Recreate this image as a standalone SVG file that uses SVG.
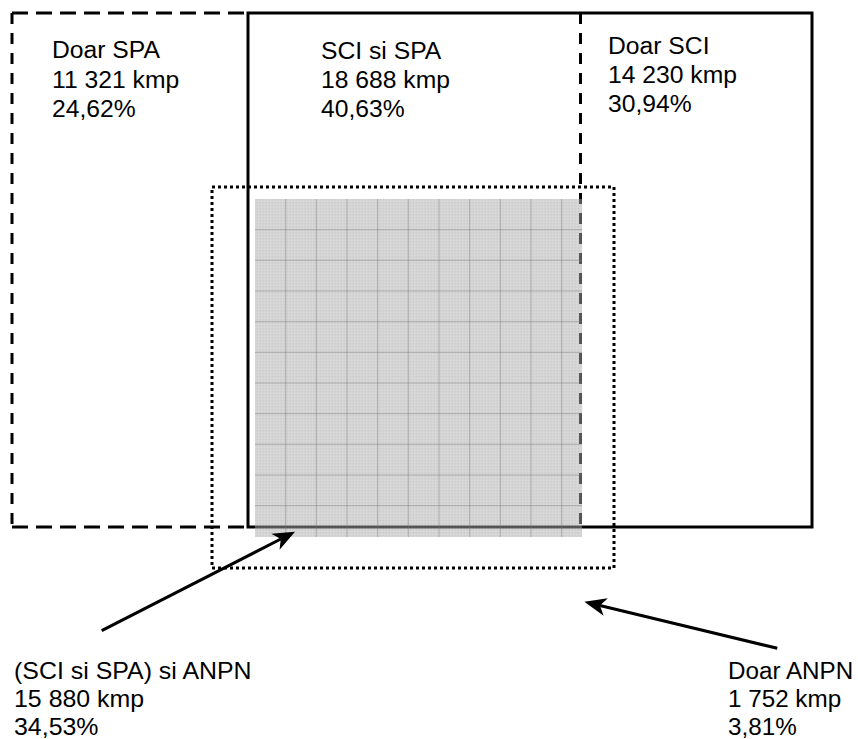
<svg xmlns="http://www.w3.org/2000/svg" width="858" height="739" viewBox="0 0 858 739">
<style>
.lbl{font-family:"Liberation Sans",Arial,sans-serif;font-size:23.3px;fill:#000}
.solid{fill:none;stroke:#000;stroke-width:3}
.dh{stroke:#000;stroke-width:3;stroke-dasharray:16 8;fill:none}
.dv{stroke:#000;stroke-width:3;stroke-dasharray:11 9;fill:none}
.dot{fill:none;stroke:#000;stroke-width:3;stroke-dasharray:3 3}
.gl{stroke:#777;stroke-opacity:0.45;stroke-width:1;fill:none}
.arr{stroke:#000;stroke-width:3;fill:none;marker-end:url(#ah)}
</style>
<defs>
<marker id="ah" markerUnits="userSpaceOnUse" markerWidth="24" markerHeight="20" viewBox="0 -10 24 20" refX="6" refY="0" orient="auto">
<path d="M22,0 L0,-9 L6,0 L0,9 Z" fill="#000"/>
</marker>
<pattern id="tex" width="3" height="3" patternUnits="userSpaceOnUse">
<rect width="3" height="3" fill="#aaa"/>
<rect x="0" y="0" width="1" height="1" fill="#bbb"/>
<rect x="2" y="1" width="1" height="1" fill="#999"/>
</pattern>
</defs>
<rect width="858" height="739" fill="#fff"/>

<g id="spa">
<line class="dh" x1="12" y1="13" x2="248" y2="13"/>
<line class="dv" x1="12" y1="13" x2="12" y2="527"/>
<line class="dh" x1="12" y1="527" x2="248" y2="527"/>
<line class="dv" x1="580.5" y1="13" x2="580.5" y2="527"/>
</g>

<g id="sci">
<rect class="solid" x="248" y="13" width="564" height="514"/>
</g>

<g id="overlap">
<rect x="255" y="199" width="327" height="338" fill="url(#tex)" fill-opacity="0.5"/>
<path class="gl" d="M285.7,199V537M316.3,199V537M347,199V537M377.7,199V537M408.3,199V537M439,199V537M469.7,199V537M500.3,199V537M531,199V537M561.7,199V537M255,229.7H582M255,260.3H582M255,291H582M255,321.7H582M255,352.3H582M255,383H582M255,413.7H582M255,444.3H582M255,475H582M255,505.7H582"/>
</g>

<g id="anpn">
<rect class="dot" x="212" y="187" width="402" height="381"/>
</g>

<g id="connectors">
<line class="arr" x1="101.7" y1="630.7" x2="280.8" y2="539"/>
<line class="arr" x1="777.3" y1="648.3" x2="599.9" y2="605.5"/>
</g>

<g id="label-doar-spa" transform="translate(52,0) scale(1.06,1)">
<text class="lbl" x="0" y="58.5">Doar SPA</text>
<text class="lbl" x="0" y="88">11 321 kmp</text>
<text class="lbl" x="0" y="117.5">24,62%</text>
</g>
<g id="label-sci-spa" transform="translate(321,0) scale(1.06,1)">
<text class="lbl" x="0" y="59">SCI si SPA</text>
<text class="lbl" x="0" y="88">18 688 kmp</text>
<text class="lbl" x="0" y="117">40,63%</text>
</g>
<g id="label-doar-sci" transform="translate(608,0) scale(1.06,1)">
<text class="lbl" x="0" y="54">Doar SCI</text>
<text class="lbl" x="0" y="83">14 230 kmp</text>
<text class="lbl" x="0" y="112">30,94%</text>
</g>
<g id="label-sci-spa-anpn" transform="translate(14,0) scale(1.07,1)">
<text class="lbl" x="0" y="679">(SCI si SPA) si ANPN</text>
<text class="lbl" x="0" y="707.5">15 880 kmp</text>
<text class="lbl" x="0" y="735">34,53%</text>
</g>
<g id="label-doar-anpn" transform="translate(728,0) scale(1.04,1)">
<text class="lbl" x="0" y="679">Doar ANPN</text>
<text class="lbl" x="0" y="707.5">1 752 kmp</text>
<text class="lbl" x="0" y="735">3,81%</text>
</g>
</svg>
